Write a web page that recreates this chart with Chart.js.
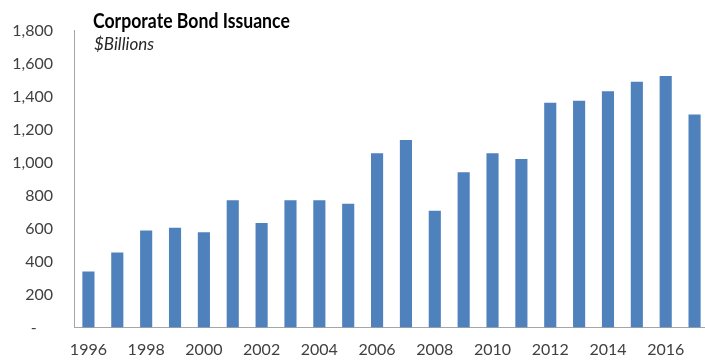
<!DOCTYPE html>
<html>
<head>
<meta charset="utf-8">
<script src="https://cdn.jsdelivr.net/npm/chart.js@4"></script>
<style>
  html, body { margin: 0; padding: 0; background: #fff; overflow: hidden; }
  #wrap { position: relative; width: 705px; height: 360px; overflow: hidden; }
  #wrap canvas { position: absolute; left: 0; top: 0; }
  .title { position: absolute; left: 93px; top: 7px; font-family: Lato, sans-serif;
           font-weight: 700; font-size: 21px; line-height: 26px; color: #000; white-space: nowrap;
           transform: scaleX(0.84); transform-origin: left center; }
  .subtitle { position: absolute; left: 94px; top: 34px; font-family: Lato, sans-serif;
              font-style: italic; font-size: 17px; line-height: 20px; color: #262626; white-space: nowrap; }
</style>
</head>
<body>
<div id="wrap">
  <canvas id="bondChart" width="709" height="360"></canvas>
  <div class="title">Corporate Bond Issuance</div>
  <div class="subtitle">$Billions</div>
</div>
<script>
// Annual corporate bond issuance, $ billions
const years = ['1996', '1997', '1998', '1999', '2000', '2001', '2002', '2003', '2004', '2005', '2006',
               '2007', '2008', '2009', '2010', '2011', '2012', '2013', '2014', '2015', '2016', '2017'];
const issuance = [340, 455, 588, 604, 578, 771, 634, 771, 771, 750, 1057,
                  1137, 708, 941, 1057, 1021, 1362, 1374, 1432, 1490, 1524, 1292];
const yTicks = [0, 200, 400, 600, 800, 1000, 1200, 1400, 1600, 1800];

const tickFont = { family: 'Lato, sans-serif', size: 16 };
const axisColor = '#a6a6a6';

const ctx = document.getElementById('bondChart').getContext('2d');
const bondChart = new Chart(ctx, {
    type: 'bar',
    data: {
        labels: years,
        datasets: [{
            label: 'Issuance',
            data: issuance,
            backgroundColor: '#4f81bd',
            borderWidth: 0,
            barPercentage: 0.42,
            categoryPercentage: 1
        }]
    },
    options: {
        responsive: false,
        animation: false,
        layout: { padding: { top: 27, right: 0, left: 0, bottom: 0 } },
        plugins: {
            legend: { display: false },
            tooltip: { enabled: false }
        },
        scales: {
            x: {
                grid: { display: false, drawTicks: false },
                border: { display: true, color: axisColor, width: 1 },
                ticks: {
                    color: '#404040',
                    font: tickFont,
                    padding: 13,
                    autoSkip: false,
                    maxRotation: 0,
                    // only every other year gets a label
                    callback: (value, i) => (i % 2 === 0 ? years[i] : '')
                },
                afterFit: scale => { scale.height = 32.5; }
            },
            y: {
                min: 0,
                max: 1800,
                grid: { display: false, drawTicks: false },
                border: { display: true, color: axisColor, width: 1 },
                afterBuildTicks: scale => { scale.ticks = yTicks.map(v => ({ value: v })); },
                ticks: {
                    color: '#404040',
                    font: tickFont,
                    padding: 21,
                    callback: v => (v === 0 ? '-    ' : v.toLocaleString('en-US'))
                },
                afterFit: scale => { scale.width = 74; }
            }
        }
    }
});
</script>
</body>
</html>
